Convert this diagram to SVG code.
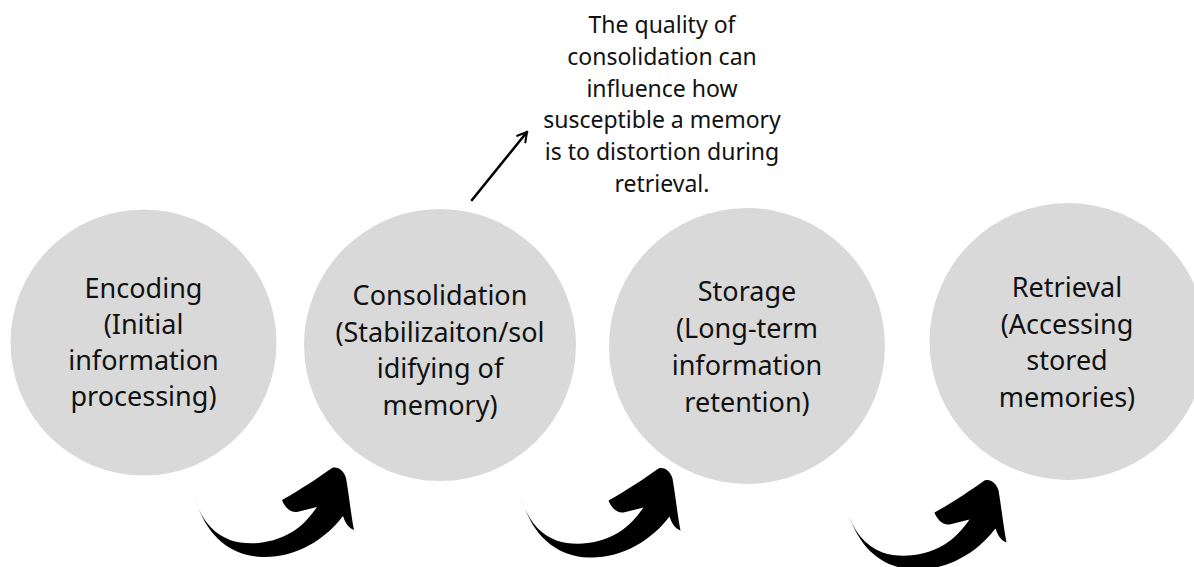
<svg xmlns="http://www.w3.org/2000/svg" xmlns:xlink="http://www.w3.org/1999/xlink" width="1194" height="567" viewBox="0 0 1194 567">
  <style>
    .stage { fill: #d9d9d9; }
    .label { font-family: "Noto Sans", "Liberation Sans", sans-serif; font-size: 27px; fill: #111; text-anchor: middle; }
    .note { font-family: "Noto Sans", "Liberation Sans", sans-serif; font-size: 23px; fill: #111; text-anchor: middle; }
    .pointer { stroke: #000; stroke-width: 2.6; fill: none; stroke-linecap: round; stroke-linejoin: round; }
    .swoosh { fill: #000; }
  </style>
  <defs>
    <!-- brush-stroke curved arrow, drawn in local coordinates -->
    <path id="swooshShape" d="M15,57 C20,78 32,93 50,100 C68,106 92,104 112,92 C122,86 130,77 137,67 L117,72 C110,73 104,66 102,60 C120,50 138,38 152,28 C158,26 164,31 166,38 C169,55 171,75 174,90 C168,88 165,82 163,76 C145,100 115,118 82,117 C50,116 25,95 15,57 Z"/>
    <marker id="openHead" viewBox="0 0 10 10" refX="8" refY="5" markerWidth="5" markerHeight="5" orient="auto" markerUnits="strokeWidth">
      <path d="M1,1 L8,5 L1,9" fill="none" stroke="#000" stroke-width="1.6" stroke-linejoin="round" stroke-linecap="round"/>
    </marker>
  </defs>

  <rect width="1194" height="567" fill="#fff"/>

  <g id="encoding">
    <circle class="stage" cx="143.5" cy="342.5" r="133"/>
    <text class="label" x="143.5" y="298">Encoding</text>
    <text class="label" x="143.5" y="334">(Initial</text>
    <text class="label" x="143.5" y="370">information</text>
    <text class="label" x="143.5" y="406">processing)</text>
  </g>

  <g id="consolidation">
    <circle class="stage" cx="440" cy="345" r="136"/>
    <text class="label" x="440" y="305">Consolidation</text>
    <text class="label" x="440" y="341.5">(Stabilizaiton/sol</text>
    <text class="label" x="440" y="378">idifying of</text>
    <text class="label" x="440" y="414.5">memory)</text>
  </g>

  <g id="storage">
    <circle class="stage" cx="747" cy="346" r="138"/>
    <text class="label" x="747" y="301">Storage</text>
    <text class="label" x="747" y="338">(Long-term</text>
    <text class="label" x="747" y="375">information</text>
    <text class="label" x="747" y="412">retention)</text>
  </g>

  <g id="retrieval">
    <circle class="stage" cx="1068" cy="341.5" r="138.5"/>
    <text class="label" x="1067" y="297">Retrieval</text>
    <text class="label" x="1067" y="333.5">(Accessing</text>
    <text class="label" x="1067" y="370">stored</text>
    <text class="label" x="1067" y="407">memories)</text>
  </g>

  <g id="note">
    <text class="note" x="662" y="33">The quality of</text>
    <text class="note" x="662" y="65">consolidation can</text>
    <text class="note" x="662" y="97">influence how</text>
    <text class="note" x="662" y="128">susceptible a memory</text>
    <text class="note" x="662" y="160">is to distortion during</text>
    <text class="note" x="662" y="192">retrieval.</text>
  </g>

  <g id="connectors">
    <line class="pointer" x1="472" y1="200" x2="527" y2="132" marker-end="url(#openHead)"/>
    <use xlink:href="#swooshShape" class="swoosh" transform="translate(180,440)"/>
    <use xlink:href="#swooshShape" class="swoosh" transform="translate(506.5,440.5)"/>
    <use xlink:href="#swooshShape" class="swoosh" transform="translate(832.5,452.5)"/>
  </g>
</svg>
